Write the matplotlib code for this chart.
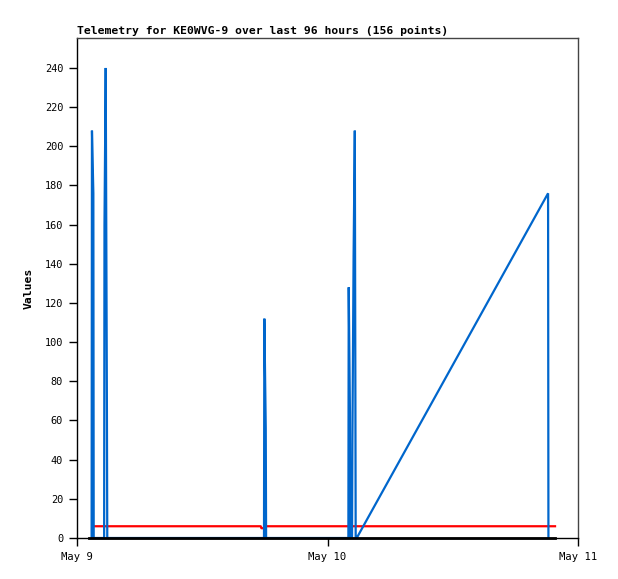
import matplotlib
matplotlib.use("Agg")
import matplotlib.pyplot as plt
import pandas as pd

title = "Telemetry for KE0WVG-9 over last 96 hours (156 points)"
y_label = "Values"

blue_times = ["2024-05-09 01:24", "2024-05-09 01:26", "2024-05-09 01:34", "2024-05-09 01:36",
              "2024-05-09 02:36", "2024-05-09 02:38", "2024-05-09 02:45", "2024-05-09 02:52", "2024-05-09 02:54",
              "2024-05-09 17:55", "2024-05-09 17:57", "2024-05-09 18:05", "2024-05-09 18:07",
              "2024-05-10 02:00", "2024-05-10 02:02", "2024-05-10 02:09", "2024-05-10 02:11",
              "2024-05-10 02:21", "2024-05-10 02:23", "2024-05-10 02:30", "2024-05-10 02:37", "2024-05-10 02:42",
              "2024-05-10 02:48", "2024-05-10 21:08", "2024-05-10 21:10"]
blue_values = [0, 208, 176, 0,
               0, 160, 240, 64, 0,
               0, 112, 56, 0,
               0, 128, 64, 0,
               0, 48, 144, 208, 0,
               0, 176, 0]

red_times = ["2024-05-09 01:38", "2024-05-09 17:36", "2024-05-09 17:40", "2024-05-09 17:52",
             "2024-05-09 17:56", "2024-05-10 21:48"]
red_values = [6, 6, 5, 5, 6, 6]

black_times = ["2024-05-09 01:09", "2024-05-10 21:48"]
black_values = [0, 0]

tick_dates = ["2024-05-09", "2024-05-10", "2024-05-11"]
tick_labels = ["May 9", "May 10", "May 11"]
y_ticks = list(range(0, 241, 20))

fig = plt.figure(figsize=(6.18, 5.79), dpi=100)
ax = fig.add_axes([77/618, 41/579, 501/618, 500/579])

mono = "DejaVu Sans Mono"
ax.plot(pd.to_datetime(red_times), red_values, color="#ff0000", lw=1.6, zorder=2)
ax.plot(pd.to_datetime(blue_times), blue_values, color="#0066cc", lw=1.6, zorder=3,
        solid_joinstyle="bevel")
ax.plot(pd.to_datetime(black_times), black_values, color="#000000", lw=2.0, zorder=4,
        clip_on=False)

ax.set_xlim(pd.Timestamp(tick_dates[0]), pd.Timestamp(tick_dates[-1]))
ax.set_ylim(0, 255.3)
ax.set_xticks(pd.to_datetime(tick_dates))
ax.set_xticklabels(tick_labels, family=mono, fontsize=7.6)
ax.set_yticks(y_ticks)
ax.set_yticklabels([str(v) for v in y_ticks], family=mono, fontsize=7.4)
ax.tick_params(axis="both", direction="out", length=6, width=1, color="#000000", pad=4)

for s in ["left", "bottom"]:
    ax.spines[s].set_color("#000000")
for s in ["top", "right"]:
    ax.spines[s].set_color("#444444")
for s in ax.spines.values():
    s.set_linewidth(1)

ax.set_title(title, loc="left", family=mono, fontweight="bold", fontsize=8.2, pad=3)
ax.set_ylabel(y_label, family=mono, fontweight="bold", fontsize=8.2, labelpad=8)

fig.savefig("out.png", dpi=100)
